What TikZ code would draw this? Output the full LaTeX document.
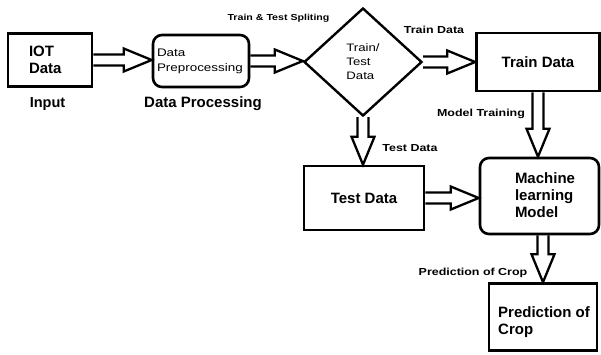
\documentclass[tikz,border=0pt]{standalone}
\usepackage{fontspec}
\setmainfont{Liberation Sans}
\newfontfamily\widefont[FakeStretch=1.22]{Liberation Sans}
\usetikzlibrary{shapes.geometric,calc}
\begin{document}
\begin{tikzpicture}[x=1pt,y=-1pt,
  box/.style={draw, line width=2.6pt, inner sep=0pt},
  roundbox/.style={box, rounded corners=9pt},
  big/.style={font=\fontsize{15}{17}\selectfont\bfseries},
  small/.style={font=\widefont\fontsize{11}{15}\selectfont},
  lab/.style={font=\widefont\fontsize{10.2}{12}\selectfont\bfseries, inner sep=0pt},
  harrow/.style={draw, line width=2.3pt, line join=miter,
    to path={let \p1=(\tikztostart), \p2=(\tikztotarget) in
      (\x1,\y1+5.5pt) -- (\x2-28pt,\y1+5.5pt) -- (\x2-28pt,\y1+11.5pt) -- (\x2,\y1)
      -- (\x2-28pt,\y1-11.5pt) -- (\x2-28pt,\y1-5.5pt) -- (\x1,\y1-5.5pt)}},
  varrow/.style={draw, line width=2.3pt, line join=miter,
    to path={let \p1=(\tikztostart), \p2=(\tikztotarget) in
      (\x1-5.5pt,\y1) -- (\x1-5.5pt,\y2+28pt) -- (\x1-11.5pt,\y2+28pt) -- (\x1,\y2)
      -- (\x1+11.5pt,\y2+28pt) -- (\x1+5.5pt,\y2+28pt) -- (\x1+5.5pt,\y1)}},
]
\useasboundingbox (0,0) rectangle (601,354);

% boxes
\node[box, minimum width=84pt, minimum height=53pt, text width=42pt, inner xsep=21pt,
      align=left, big] (iot) at (50,60) {IOT\\Data};
\node[roundbox, minimum width=96pt, minimum height=52pt, text width=88pt, inner xsep=4pt,
      align=left, small] (dp) at (201,61) {Data\\Preprocessing};
\node[draw, diamond, line width=2.4pt, minimum width=118pt, minimum height=108pt,
      aspect=1.09, inner sep=0pt, align=left,
      font=\widefont\fontsize{10.8}{14}\selectfont] (dia) at (363,62) {Train/\\Test\\Data};
\node[box, minimum width=123pt, minimum height=58pt, big] (train) at (538,62) {Train Data};
\node[box, minimum width=120pt, minimum height=64pt, big] (test) at (364,198) {Test Data};
\node[roundbox, minimum width=119pt, minimum height=76pt] (ml) at (539.5,196) {};
\node[big, align=left, inner sep=0pt] (mltext) at (545,195) {Machine\\learning\\Model};
\node[box, minimum width=108pt, minimum height=67pt] (pred) at (543,317) {};
\node[big, align=left, inner sep=0pt] (predtext) at (544,322) {Prediction of\\Crop};

% captions
\node[font=\fontsize{14.5}{17}\selectfont\bfseries] (inlab) at (47.5,104) {Input};
\node[big] (dplab) at (203,104) {Data Processing};
\node[lab, font=\widefont\fontsize{8.7}{10}\selectfont\bfseries] (split) at (278.5,18) {Train \& Test Spliting};
\node[lab] (trlab) at (434,30) {Train Data};
\node[lab] (mtlab) at (481,114) {Model Training};
\node[lab] (tslab) at (410,148) {Test Data};
\node[lab] (prlab) at (473,273) {Prediction of Crop};

% hollow block arrows
\draw[harrow] (iot.east) to (dp.west);
\draw[harrow] (dp.east) to (dia.west);
\draw[harrow] (dia.east) to (train.west);
\draw[varrow] (dia.south) to (test.north);
\draw[varrow] (train.south) to (ml.north);
\draw[harrow] (test.east) to (ml.west);
\draw[varrow] (ml.south -| pred.north) to (pred.north);
\end{tikzpicture}
\end{document}
